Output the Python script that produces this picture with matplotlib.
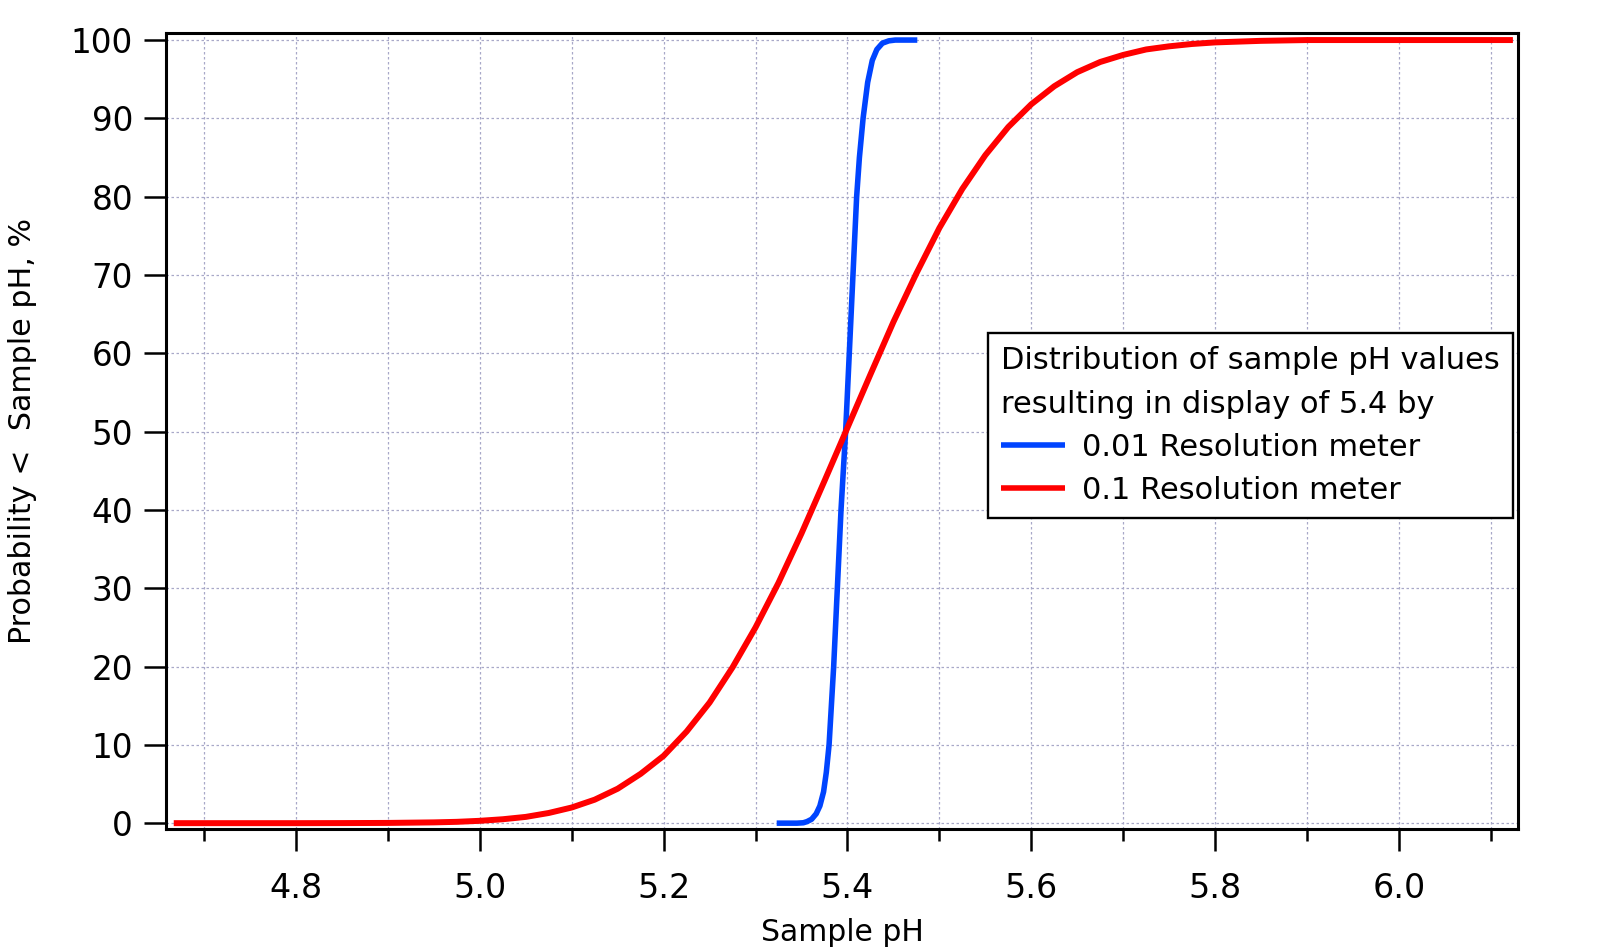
import matplotlib
matplotlib.use("Agg")
import matplotlib.pyplot as plt
from matplotlib.ticker import MultipleLocator

# 0.01 resolution meter
ph_fine = [5.323, 5.345, 5.352, 5.356, 5.361, 5.366, 5.370, 5.374, 5.377, 5.380,
           5.385, 5.389, 5.393, 5.398, 5.402, 5.406, 5.410, 5.413, 5.417, 5.422,
           5.427, 5.432, 5.438, 5.445, 5.452, 5.476]
prob_fine = [0, 0, 0.05, 0.2, 0.5, 1.2, 2.2, 4.0, 6.5, 10,
             20, 30, 40, 50, 60, 70, 80, 85, 90, 94.6,
             97.4, 98.8, 99.6, 99.9, 100, 100]

# 0.1 resolution meter
ph_coarse = [4.667, 4.75, 4.80, 4.85, 4.90, 4.95, 4.975, 5.00, 5.025, 5.05,
             5.075, 5.10, 5.125, 5.15, 5.175, 5.20, 5.225, 5.25, 5.275, 5.30,
             5.325, 5.35, 5.375, 5.40, 5.425, 5.45, 5.475, 5.50, 5.525, 5.55,
             5.575, 5.60, 5.625, 5.65, 5.675, 5.70, 5.725, 5.75, 5.775, 5.80,
             5.85, 5.90, 6.00, 6.124]
prob_coarse = [0, 0, 0, 0.01, 0.03, 0.1, 0.17, 0.3, 0.5, 0.8,
               1.3, 2.0, 3.0, 4.4, 6.3, 8.6, 11.7, 15.4, 19.9, 25.0,
               30.7, 37.0, 43.7, 50.5, 57.3, 64.0, 70.2, 76.0, 81.0, 85.3,
               88.9, 91.8, 94.1, 95.9, 97.2, 98.1, 98.8, 99.2, 99.5, 99.7,
               99.9, 100, 100, 100]

plt.rcParams['font.family'] = ['DejaVu Sans']

fig = plt.figure(figsize=(16, 9.52), dpi=100)
ax = fig.add_axes([0.104, 0.129, 0.845, 0.836])

ax.plot(ph_fine, prob_fine, color='#0044ff', lw=4.0, solid_capstyle='butt',
        label='0.01 Resolution meter', zorder=3)
ax.plot(ph_coarse, prob_coarse, color='#ff0000', lw=4.3, solid_capstyle='butt',
        label='0.1 Resolution meter', zorder=3)

ax.set_xlim(4.659, 6.130)
ax.set_ylim(-0.77, 100.86)

ax.xaxis.set_major_locator(MultipleLocator(0.2))
ax.xaxis.set_minor_locator(MultipleLocator(0.1))
ax.yaxis.set_major_locator(MultipleLocator(10))
ax.xaxis.set_major_formatter(plt.FuncFormatter(lambda v, p: f"{v:.1f}"))

ax.grid(True, which='both', axis='x', color='#a8a8c8', lw=0.9, ls=(0, (2, 2)))
ax.grid(True, which='major', axis='y', color='#a8a8c8', lw=0.9, ls=(0, (2, 2)))
ax.set_axisbelow(True)

for s in ax.spines.values():
    s.set_linewidth(2.2)

ax.tick_params(axis='both', which='major', direction='out', length=16, width=1.8,
               color='black')
ax.tick_params(axis='x', which='major', pad=15, labelsize=24)
ax.tick_params(axis='y', which='major', pad=8, labelsize=23.5)
ax.tick_params(axis='x', which='minor', direction='out', length=8.6, width=1.8)

ax.set_xlabel('Sample pH', fontsize=21.5, labelpad=9)
ax.set_ylabel('Probability <  Sample pH, %', fontsize=21.7, labelpad=24)

leg = ax.legend(title='Distribution of sample pH values\nresulting in display of 5.4 by',
                loc='upper left', bbox_to_anchor=(0.608, 0.623), borderaxespad=0,
                fontsize=22, title_fontsize=22, alignment='left',
                fancybox=False, framealpha=1, edgecolor='black',
                handlelength=2.1, handletextpad=0.55, borderpad=0.42,
                labelspacing=0.46)
leg.get_title().set_linespacing(1.63)
leg.get_frame().set_linewidth(1.7)
for line in leg.get_lines():
    line.set_linewidth(4.0)

fig.savefig('out.png', dpi=100)
